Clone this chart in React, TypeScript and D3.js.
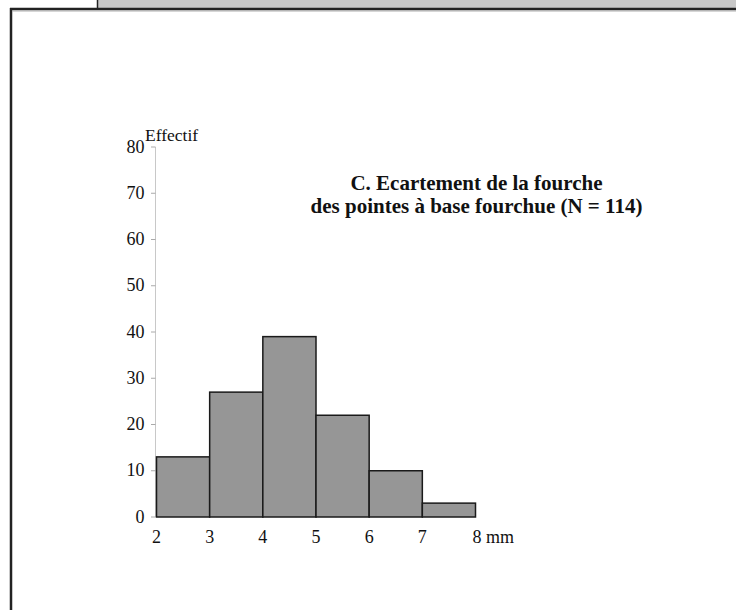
import React from "react";
import * as d3 from "d3";

const binStarts = [2, 3, 4, 5, 6, 7];
const counts = [13, 27, 39, 22, 10, 3];
const xTickLabels = ["2", "3", "4", "5", "6", "7", "8 mm"];
const yTicks = [0, 10, 20, 30, 40, 50, 60, 70, 80];
const titleLines = ["C. Ecartement de la fourche", "des pointes à base fourchue (N = 114)"];
const yLabel = "Effectif";

export default function App() {
  const W = 736, H = 610;
  const x = d3.scaleLinear().domain([2, 8]).range([156.5, 475.5]);
  const y = d3.scaleLinear().domain([0, 80]).range([517, 147]);
  const font = "'Liberation Serif', 'Times New Roman', serif";
  return (
    <svg width={W} height={H} style={{ position: "absolute", left: 0, top: 0, background: "#fff" }}>
      {/* frame */}
      <rect x={97} y={0} width={W - 97} height={8} fill="#c8c8c8" />
      <line x1={97.5} y1={0} x2={97.5} y2={9} stroke="#222" strokeWidth={1.5} />
      <line x1={10} y1={9} x2={W} y2={9} stroke="#222" strokeWidth={2.5} />
      <line x1={11} y1={8} x2={11} y2={H} stroke="#222" strokeWidth={2.5} />
      <line x1={12.5} y1={11} x2={W} y2={11} stroke="#999" strokeWidth={0.8} />

      {/* y axis */}
      <line x1={155.5} y1={y(80)} x2={155.5} y2={y(0)} stroke="#c8c8c8" strokeWidth={1} />
      {yTicks.map((t) => (
        <g key={t}>
          <line x1={151} x2={155.5} y1={y(t)} y2={y(t)} stroke="#aaa" strokeWidth={1} />
          <text x={144.5} y={y(t) + 5.5} textAnchor="end" fontFamily={font} fontSize={18} fill="#111">
            {t}
          </text>
        </g>
      ))}
      <text x={145} y={141} fontFamily={font} fontSize={17.5} fill="#111">{yLabel}</text>

      {/* bars */}
      {binStarts.map((b, i) => (
        <rect
          key={b}
          x={x(b)}
          y={y(counts[i])}
          width={x(b + 1) - x(b)}
          height={y(0) - y(counts[i])}
          fill="#969696"
          stroke="#1a1a1a"
          strokeWidth={1.5}
        />
      ))}

      {/* x labels */}
      {xTickLabels.map((l, i) => (
        <text
          key={l}
          x={x(2 + i) + (i === xTickLabels.length - 1 ? -3 : 0)}
          y={542.5}
          textAnchor={i === xTickLabels.length - 1 ? "start" : "middle"}
          fontFamily={font}
          fontSize={18}
          fill="#111"
        >
          {l}
        </text>
      ))}

      {/* title */}
      {titleLines.map((l, i) => (
        <text
          key={i}
          x={476.5}
          y={190 + i * 22.5}
          textAnchor="middle"
          fontFamily={font}
          fontSize={21}
          fontWeight="bold"
          fill="#111"
        >
          {l}
        </text>
      ))}
    </svg>
  );
}
